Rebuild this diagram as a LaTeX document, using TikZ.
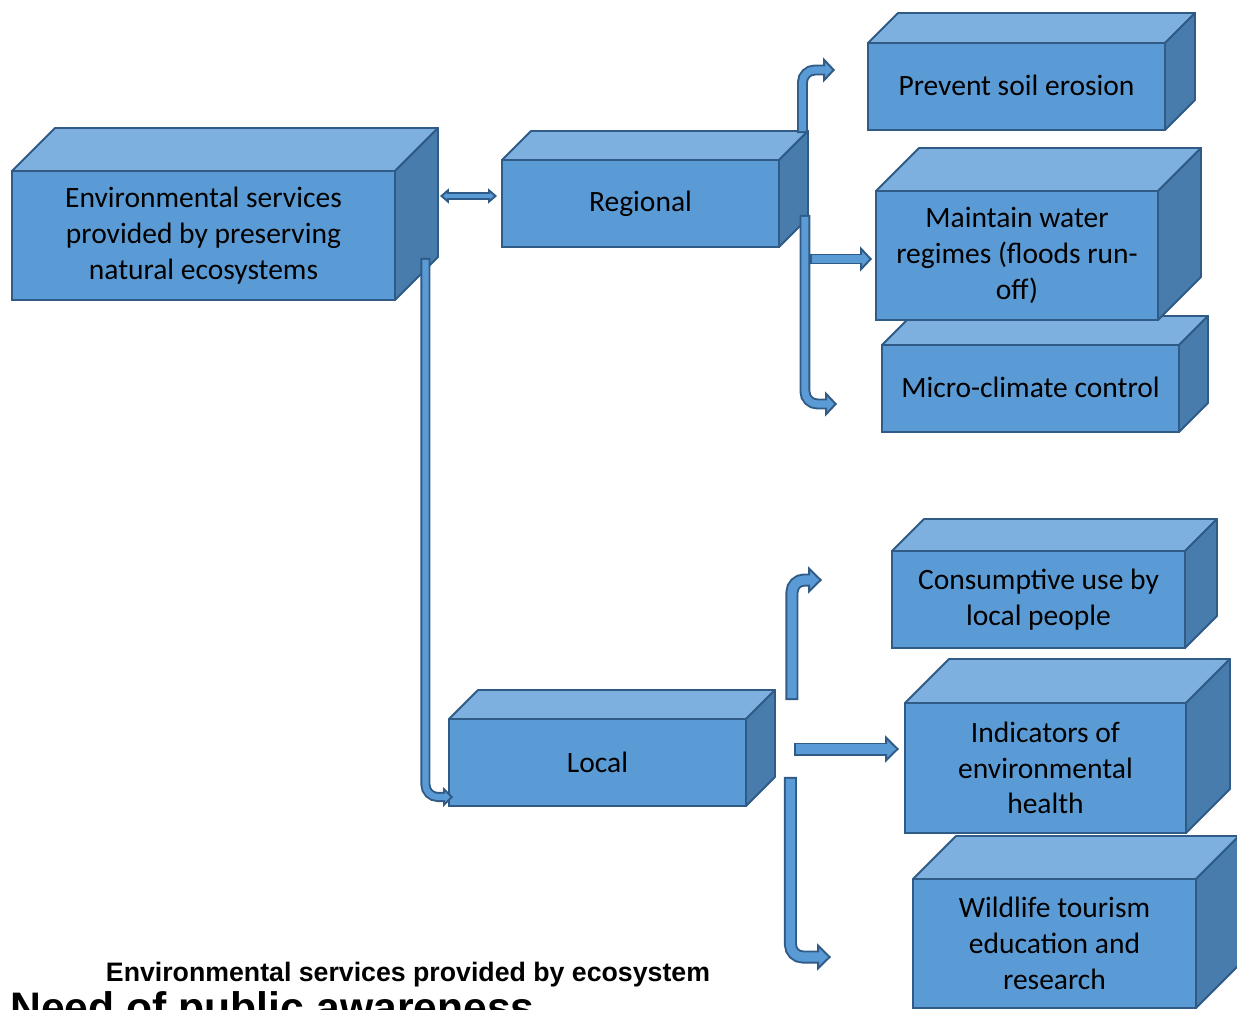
\documentclass[tikz,border=0pt]{standalone}
\usepackage{fontspec}
\setmainfont{Carlito}
\newfontfamily\arialfont{Liberation Sans}
\usetikzlibrary{arrows.meta}

\definecolor{boxfront}{HTML}{5B9BD5}
\definecolor{boxtop}{HTML}{7DAFDF}
\definecolor{boxside}{HTML}{477CAD}
\definecolor{boxline}{HTML}{2F5B86}

\tikzset{
  box/.style={draw=boxline, fill=boxfront, line width=1.1pt, outer sep=0pt, inner sep=0pt,
              align=center, font=\fontsize{16.8}{20.4}\selectfont},
  boxedge/.style={draw=boxline, line width=1.1pt, line join=round},
  pipe/.style n args={3}{line join=round, rounded corners=7pt,
              preaction={draw=boxline, line width=#1, shorten <=0pt, shorten >=0pt,
                         -{Triangle[length=#3, width=#2, line width=1.1pt, fill=boxfront]}},
              draw=boxfront, line width=#1-2.2pt, shorten <=1.1pt, shorten >=#3-1.8pt},
  twin/.style n args={3}{line join=round,
              preaction={draw=boxline, line width=#1, shorten <=0pt, shorten >=0pt,
                         {Triangle[length=#3, width=#2, line width=1.1pt, fill=boxfront]}-{Triangle[length=#3, width=#2, line width=1.1pt, fill=boxfront]}},
              draw=boxfront, line width=#1-2.2pt, shorten <=#3-1.8pt, shorten >=#3-1.8pt},
  mainarrow/.style={pipe={5.7pt}{11.3pt}{5.7pt}},
  regarrow/.style={pipe={6.2pt}{14.2pt}{6.8pt}},
  locarrow/.style={pipe={7.4pt}{15.3pt}{7.9pt}}
}

% top and side faces of a box node: #1 node, #2 depth
\newcommand\boxsides[2]{
  \draw[boxedge, fill=boxtop] (#1.north west) -- ++(#2,-#2) -- ([shift={(#2,-#2)}]#1.north east) -- (#1.north east) -- cycle;
  \draw[boxedge, fill=boxside] (#1.north east) -- ++(#2,-#2) -- ([shift={(#2,-#2)}]#1.south east) -- (#1.south east) -- cycle;
}

\begin{document}
\begin{tikzpicture}[x=0.02cm, y=-0.02cm]
  \useasboundingbox (0,0) rectangle (1237,1010);
  \clip (0,0) rectangle (1237,1010);

  \node[box, minimum width=7.66cm, minimum height=2.58cm] (env) at (203.5,235.5)
    {Environmental services\\provided by preserving\\natural ecosystems};
  \boxsides{env}{43}
  \node[box, minimum width=5.54cm, minimum height=1.74cm] (regional) at (640.5,203.5) {Regional};
  \boxsides{regional}{29}
  \node[box, minimum width=5.94cm, minimum height=1.74cm] (local) at (597.5,762.5) {Local};
  \boxsides{local}{29}

  \node[box, minimum width=5.94cm, minimum height=1.74cm] (soil) at (1016.5,86.5) {\raisebox{1pt}{Prevent soil erosion}};
  \boxsides{soil}{30}
  \node[box, minimum width=5.94cm, minimum height=1.74cm] (micro) at (1030.5,388.5) {\raisebox{1pt}{Micro-climate control}};
  \boxsides{micro}{29}
  \node[box, minimum width=5.64cm, minimum height=2.58cm] (water) at (1017,255.5)
    {Maintain water\\regimes (floods run-\\off)};
  \boxsides{water}{43}

  \node[box, minimum width=5.86cm, minimum height=1.94cm] (consume) at (1038.5,599.5)
    {Consumptive use by\\local people};
  \boxsides{consume}{32}
  \node[box, minimum width=5.62cm, minimum height=2.6cm] (health) at (1045.5,768)
    {Indicators of\\environmental\\health};
  \boxsides{health}{44}
  \node[box, minimum width=5.66cm, minimum height=2.58cm] (wildlife) at (1054.5,943.5)
    {Wildlife tourism\\education and\\research};
  \boxsides{wildlife}{43}

  % connectors
  \draw[twin={4pt}{8.5pt}{5.1pt}] ([shift={(45,-39.5)}]env.east) -- ([shift={(-5,-7.5)}]regional.west);
  \draw[mainarrow] ([shift={(30.5,-42)}]env.south east) |- ([shift={(4,-9)}]local.south west);

  \draw[regarrow] ([shift={(23.5,-27)}]regional.north east) |- ([shift={(-33,-16.5)}]soil.west);
  \draw[regarrow] ([shift={(31,55.5)}]regional.east) -- ([shift={(-4,3.5)}]water.west);
  \draw[regarrow] ([shift={(26,-32)}]regional.south east) |- ([shift={(-45,15.5)}]micro.west);

  \draw[locarrow] ([shift={(46,-19)}]local.north east) |- ([shift={(-70,-19.5)}]consume.west);
  \draw[locarrow] ([shift={(48,-13.5)}]local.east) -- ([shift={(-6,-19)}]health.west);
  \draw[locarrow] ([shift={(44.5,-29)}]local.south east) |- ([shift={(-82,13.5)}]wildlife.west);

  \node[anchor=base, font=\arialfont\bfseries\fontsize{15.2}{18}\selectfont] (caption) at (408,981)
    {Environmental services provided by ecosystem};
  \node[anchor=base west, inner sep=0pt, font=\arialfont\bfseries\fontsize{24.3}{28}\selectfont] (awareness) at (10,1022)
    {Need of public awareness};
\end{tikzpicture}
\end{document}
